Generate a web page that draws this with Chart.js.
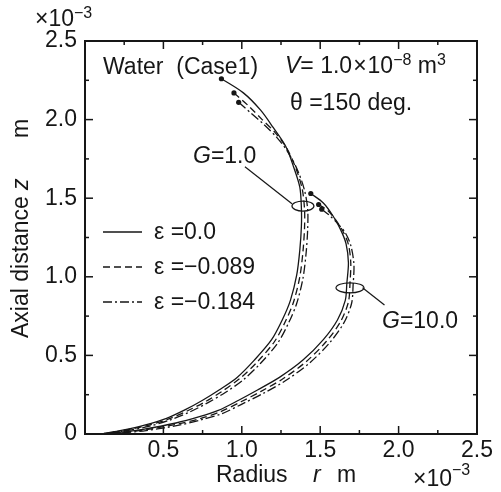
<!DOCTYPE html>
<html>
<head>
<meta charset="utf-8">
<script src="https://cdn.jsdelivr.net/npm/chart.js@4.4.1/dist/chart.umd.min.js"></script>
<style>
  body { margin: 0; background: #fff; }
</style>
</head>
<body>
<canvas id="myChart" width="501" height="492"></canvas>
<script>
// radius r and axial distance z, both in units of 1e-3 m
// G = 1.0
var g1_eps0_r = [0.87, 1.01, 1.12, 1.20, 1.28, 1.33, 1.37, 1.38, 1.38, 1.37, 1.35, 1.31, 1.26, 1.19, 1.08, 0.97, 0.855, 0.75, 0.64, 0.52, 0.38, 0.24, 0.10];
var g1_eps0_z = [2.26, 2.17, 2.06, 1.95, 1.83, 1.70, 1.57, 1.44, 1.32, 1.17, 1.01, 0.85, 0.73, 0.60, 0.47, 0.36, 0.28, 0.215, 0.155, 0.10, 0.057, 0.025, 0.00];
var g1_eps1_r = [0.95, 1.04, 1.13, 1.21, 1.285, 1.345, 1.385, 1.40, 1.40, 1.39, 1.37, 1.33, 1.28, 1.21, 1.10, 0.99, 0.875, 0.77, 0.655, 0.53, 0.39, 0.245, 0.10];
var g1_eps1_z = [2.17, 2.09, 2.00, 1.92, 1.82, 1.69, 1.56, 1.43, 1.31, 1.16, 1.00, 0.84, 0.72, 0.59, 0.46, 0.355, 0.272, 0.207, 0.148, 0.094, 0.052, 0.022, 0.00];
var g1_eps2_r = [0.98, 1.06, 1.14, 1.22, 1.29, 1.355, 1.40, 1.42, 1.42, 1.41, 1.39, 1.35, 1.30, 1.23, 1.12, 1.01, 0.895, 0.785, 0.67, 0.54, 0.40, 0.25, 0.10];
var g1_eps2_z = [2.11, 2.04, 1.97, 1.89, 1.80, 1.68, 1.55, 1.43, 1.30, 1.15, 0.99, 0.83, 0.71, 0.58, 0.45, 0.345, 0.264, 0.200, 0.141, 0.088, 0.047, 0.019, 0.00];
// G = 10.0
var g10_eps0_r = [1.44, 1.52, 1.58, 1.63, 1.665, 1.68, 1.67, 1.66, 1.61, 1.52, 1.39, 1.24, 1.10, 0.98, 0.85, 0.73, 0.58, 0.37, 0.22, 0.10];
var g10_eps0_z = [1.53, 1.47, 1.39, 1.30, 1.21, 1.09, 0.96, 0.85, 0.725, 0.60, 0.47, 0.36, 0.28, 0.215, 0.15, 0.11, 0.07, 0.03, 0.01, 0.00];
var g10_eps1_r = [1.49, 1.55, 1.60, 1.645, 1.68, 1.695, 1.69, 1.68, 1.63, 1.54, 1.41, 1.26, 1.12, 0.995, 0.86, 0.74, 0.59, 0.38, 0.22, 0.10];
var g10_eps1_z = [1.46, 1.42, 1.36, 1.29, 1.205, 1.09, 0.96, 0.84, 0.715, 0.59, 0.46, 0.35, 0.27, 0.205, 0.14, 0.10, 0.063, 0.026, 0.008, 0.00];
var g10_eps2_r = [1.51, 1.56, 1.61, 1.66, 1.695, 1.715, 1.71, 1.70, 1.65, 1.56, 1.43, 1.28, 1.14, 1.01, 0.875, 0.75, 0.60, 0.39, 0.23, 0.10];
var g10_eps2_z = [1.43, 1.39, 1.34, 1.28, 1.20, 1.08, 0.95, 0.83, 0.705, 0.58, 0.45, 0.34, 0.26, 0.195, 0.13, 0.093, 0.056, 0.022, 0.006, 0.00];

var epsLabels = ["ε =0.0", "ε =−0.089", "ε =−0.184"];
var xTickLabels = ["", "0.5", "1.0", "1.5", "2.0", "2.5"];
var yTickLabels = ["0", "0.5", "1.0", "1.5", "2.0", "2.5"];

var FONT = '"Liberation Sans", Arial, sans-serif';
var INK = "#161616";
var dashes = [[], [7, 4], [9, 3, 2, 3]];

function pts(r, z) {
  return r.map(function (v, i) { return { x: v, y: z[i] }; });
}

function curve(label, r, z, k) {
  return {
    label: label,
    data: pts(r, z),
    showLine: true,
    borderColor: INK,
    backgroundColor: INK,
    borderWidth: 1.3,
    borderDash: dashes[k],
    tension: 0.3,
    pointRadius: function (c) { return c.dataIndex === 0 ? 2.6 : 0; },
    pointBackgroundColor: INK,
    pointBorderWidth: 0,
  };
}

var data = {
  datasets: [
    curve("G=1.0 " + epsLabels[0], g1_eps0_r, g1_eps0_z, 0),
    curve("G=1.0 " + epsLabels[1], g1_eps1_r, g1_eps1_z, 1),
    curve("G=1.0 " + epsLabels[2], g1_eps2_r, g1_eps2_z, 2),
    curve("G=10.0 " + epsLabels[0], g10_eps0_r, g10_eps0_z, 0),
    curve("G=10.0 " + epsLabels[1], g10_eps1_r, g10_eps1_z, 1),
    curve("G=10.0 " + epsLabels[2], g10_eps2_r, g10_eps2_z, 2),
  ],
};

// draws a row of text pieces, left aligned from x on baseline y
function rich(ctx, parts, x, y) {
  var cx = x;
  parts.forEach(function (p) {
    var size = p.sup ? 16 : 23;
    ctx.font = (p.it ? "italic " : "") + size + "px " + FONT;
    ctx.fillText(p.t, cx, p.sup ? y - p.sup : y);
    cx += ctx.measureText(p.t).width + (p.gap || 0);
  });
}

function line(ctx, x1, y1, x2, y2) {
  ctx.beginPath();
  ctx.moveTo(x1, y1);
  ctx.lineTo(x2, y2);
  ctx.stroke();
}

var decor = {
  id: "decor",
  afterDraw: function (chart) {
    var ctx = chart.ctx, a = chart.chartArea;
    var xs = chart.scales.x, ys = chart.scales.y;
    ctx.save();
    ctx.strokeStyle = INK;
    ctx.fillStyle = INK;

    // frame and inward ticks
    ctx.lineWidth = 2;
    ctx.strokeRect(a.left, a.top, a.right - a.left, a.bottom - a.top);
    ctx.lineWidth = 1.5;
    for (var i = 1; i < 10; i++) {
      var v = i * 0.25, len = i % 2 === 0 ? 8 : 4;
      var px = xs.getPixelForValue(v), py = ys.getPixelForValue(v);
      line(ctx, px, a.bottom, px, a.bottom - len);
      line(ctx, px, a.top, px, a.top + len);
      line(ctx, a.left, py, a.left + len, py);
      line(ctx, a.right, py, a.right - len, py);
    }

    // rings and leaders for G labels
    ctx.lineWidth = 1.2;
    ctx.beginPath();
    ctx.ellipse(xs.getPixelForValue(1.39), ys.getPixelForValue(1.45), 11, 5, 0, 0, Math.PI * 2);
    ctx.stroke();
    line(ctx, xs.getPixelForValue(1.02), ys.getPixelForValue(1.70), xs.getPixelForValue(1.32), ys.getPixelForValue(1.465));
    ctx.beginPath();
    ctx.ellipse(xs.getPixelForValue(1.69), ys.getPixelForValue(0.93), 14, 5, 0, 0, Math.PI * 2);
    ctx.stroke();
    line(ctx, xs.getPixelForValue(1.77), ys.getPixelForValue(0.93), xs.getPixelForValue(1.91), ys.getPixelForValue(0.82));

    // texts inside the plot
    ctx.textBaseline = "alphabetic";
    ctx.textAlign = "left";
    rich(ctx, [{ t: "Water  (Case1)" }], 103, 74);
    rich(ctx, [{ t: "V", it: true }, { t: "= 1.0", gap: 1 }, { t: "×", gap: 1 }, { t: "10" }, { t: "−8", sup: 8 }, { t: " m" }, { t: "3", sup: 8 }], 285, 73);
    rich(ctx, [{ t: "θ =150 deg." }], 290, 110);
    rich(ctx, [{ t: "G", it: true }, { t: "=1.0" }], 193, 163);
    rich(ctx, [{ t: "G", it: true }, { t: "=10.0" }], 382, 328);

    // legend
    var ly = [232, 267, 302], lb = [239, 274, 309];
    ctx.lineWidth = 1.3;
    for (var k = 0; k < 3; k++) {
      ctx.setLineDash(dashes[k]);
      line(ctx, 103, ly[k], 142, ly[k]);
      ctx.setLineDash([]);
      rich(ctx, [{ t: epsLabels[k] }], 154, lb[k]);
    }

    // axis multipliers
    rich(ctx, [{ t: "×" }, { t: "10" }, { t: "−3", sup: 8 }], 35, 26);
    rich(ctx, [{ t: "×" }, { t: "10" }, { t: "−3", sup: 11 }], 413, 486);

    // x title
    rich(ctx, [{ t: "Radius" }], 216, 482);
    rich(ctx, [{ t: "r", it: true }], 313, 482);
    rich(ctx, [{ t: "m" }], 337, 482);

    // y title (rotated)
    ctx.translate(28, 338);
    ctx.rotate(-Math.PI / 2);
    rich(ctx, [{ t: "Axial distance" }], 0, 0);
    rich(ctx, [{ t: "z", it: true }], 148, 0);
    rich(ctx, [{ t: "m" }], 200, 0);
    ctx.restore();
  },
};

var config = {
  type: "scatter",
  data: data,
  options: {
    responsive: false,
    animation: false,
    devicePixelRatio: 1,
    layout: { padding: { left: 0, right: 24, top: 41, bottom: 0 } },
    plugins: { legend: { display: false }, tooltip: { enabled: false } },
    scales: {
      x: {
        type: "linear",
        min: 0,
        max: 2.5,
        afterFit: function (s) { s.height = 58; },
        grid: { display: true, drawOnChartArea: false, drawTicks: false, color: "rgba(0,0,0,0)" },
        border: { display: false },
        ticks: {
          stepSize: 0.5,
          padding: 3,
          color: INK,
          font: { family: FONT, size: 23 },
          maxRotation: 0,
          callback: function (v, i) { return xTickLabels[i]; },
        },
      },
      y: {
        type: "linear",
        min: 0,
        max: 2.5,
        afterFit: function (s) { s.width = 85; },
        grid: { display: true, drawOnChartArea: false, drawTicks: false, color: "rgba(0,0,0,0)" },
        border: { display: false },
        ticks: {
          stepSize: 0.5,
          padding: 8,
          color: INK,
          font: { family: FONT, size: 23 },
          callback: function (v, i) { return yTickLabels[i]; },
        },
      },
    },
  },
  plugins: [decor],
};

var myChart = new Chart(document.getElementById("myChart"), config);
</script>
</body>
</html>
